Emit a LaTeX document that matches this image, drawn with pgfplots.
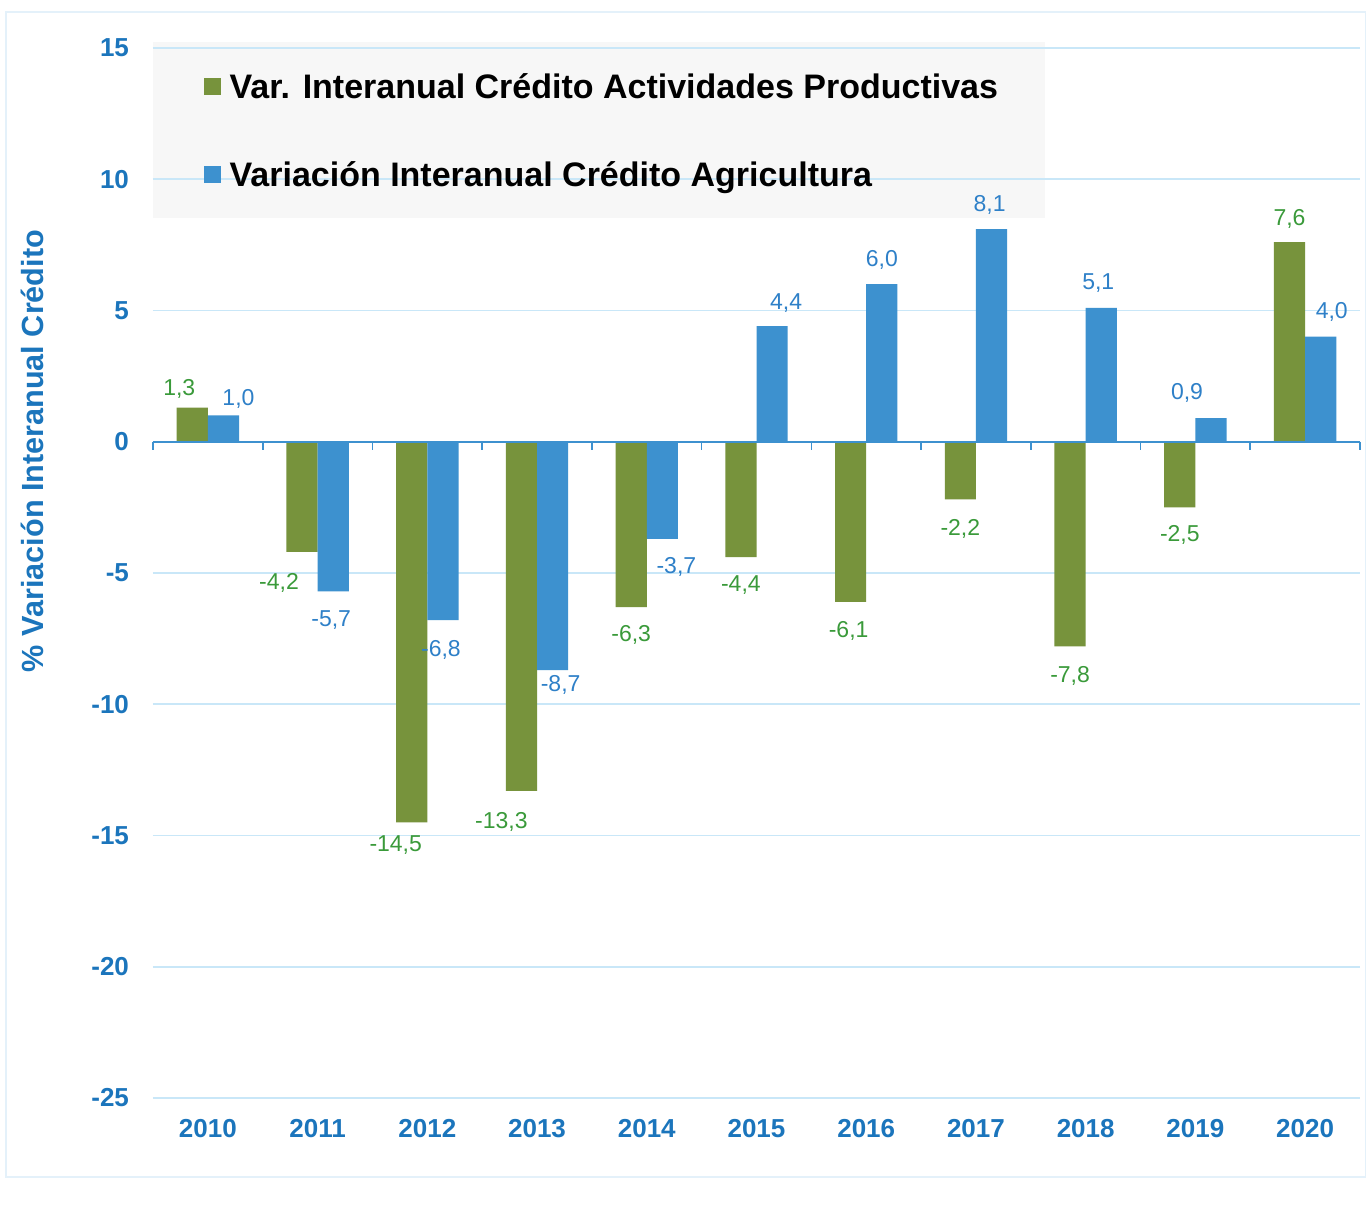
\documentclass[border=0pt]{standalone}
\usepackage{pgfplots}
\pgfplotsset{compat=1.18}
\usepackage{pgfplotstable}
\usepackage{fontspec}
\setmainfont{Liberation Sans}
\definecolor{barG}{HTML}{77933C}
\definecolor{barB}{HTML}{3D91CF}
\definecolor{labG}{HTML}{3A9A3A}
\definecolor{labB}{HTML}{2E80C8}
\definecolor{tickB}{HTML}{1B75BC}
\definecolor{gridB}{HTML}{C9E7F8}
\definecolor{legbg}{HTML}{F7F7F7}
\definecolor{frameB}{HTML}{E4F1FA}

\pgfplotstableread{
x y dx dy lab
0 1.3 -6.5 9.5 1,3
1 -4.2 -11.5 -15.5 -4,2
2 -14.5 -8 -11.5 -14,5
3 -13.3 -10 -15.5 -13,3
4 -6.3 0 -14 -6,3
5 -4.4 0 -14 -4,4
6 -6.1 -1 -14.5 -6,1
7 -2.2 0 -14.5 -2,2
8 -7.8 0 -14.5 -7,8
9 -2.5 0 -14 -2,5
10 7.6 0 11.5 7,6
}\greendata

\pgfplotstableread{
x y dx dy lab
0 1.0 7.5 8.5 1,0
1 -5.7 -1 -14.5 -5,7
2 -6.8 -1 -15 -6,8
3 -8.7 4 -7.5 -8,7
4 -3.7 7 -14 -3,7
5 4.4 7 11.5 4,4
6 6.0 0 12 6,0
7 8.1 -1 12 8,1
8 5.1 -1.5 12.5 5,1
9 0.9 -12 12.5 0,9
10 4.0 5.5 12.5 4,0
}\bluedata

\begin{document}
\begin{tikzpicture}
\useasboundingbox (0,0) rectangle (683pt,604pt);
\fill[white] (0,0) rectangle (683pt,604pt);
\draw[frameB, line width=0.6pt] (3pt,15.5pt) rectangle (683pt,598pt);
\fill[legbg] (76.5pt,495pt) rectangle (522.5pt,583pt);
\node[rotate=90, text=tickB, font=\bfseries\fontsize{15.3}{17}\selectfont] at (16pt,378.5pt) {\% Variación Interanual Crédito};
\begin{axis}[
  at={(76.5pt,55pt)}, anchor=south west,
  scale only axis, width=603.5pt, height=525pt,
  xmin=-0.5, xmax=10.5, ymin=-25, ymax=15,
  ybar=0pt, bar width=15.6pt,
  xtick={0,1,2,3,4,5,6,7,8,9,10},
  xticklabels={2010,2011,2012,2013,2014,2015,2016,2017,2018,2019,2020},
  ytick={-25,-20,-15,-10,-5,0,5,10,15},
  ymajorgrids, grid style={gridB, line width=0.8pt},
  axis line style={draw=none}, major tick length=0pt,
  tick label style={text=tickB, font=\bfseries\fontsize{13}{15}\selectfont},
  /pgf/number format/assume math mode=true,
  yticklabel style={xshift=-8.5pt},
  xticklabel style={yshift=-7pt},
  clip=false,
  point meta=explicit symbolic,
  nodes near coords,
  nodes near coords align={center},
  legend style={at={(0.0423,0.977)}, anchor=north west, draw=none, fill=none,
    inner sep=0pt, outer sep=0pt, row sep=27.5pt, column sep=4.3pt,
    nodes={inner sep=0pt, text height=13pt, text depth=3.5pt, anchor=base west},
    font=\bfseries\fontsize{17}{19}\selectfont},
  legend cell align=left,
]
\addplot[fill=barG, draw=none,
  legend image code/.code={\fill[barG] (0pt,1.5pt) rectangle (8.5pt,10pt);},
  visualization depends on={\thisrow{dx} \as \ldx},
  visualization depends on={\thisrow{dy} \as \ldy},
  nodes near coords style={anchor=center, text=labG, font=\fontsize{11.5}{13}\selectfont, xshift=\ldx pt, yshift=\ldy pt}]
  table[x=x, y=y, meta=lab] {\greendata};
\addlegendentry{Var. Interanual Crédito Actividades Productivas}
\addplot[fill=barB, draw=none,
  legend image code/.code={\fill[barB] (0pt,1.5pt) rectangle (8.5pt,10pt);},
  visualization depends on={\thisrow{dx} \as \ldx},
  visualization depends on={\thisrow{dy} \as \ldy},
  nodes near coords style={anchor=center, text=labB, font=\fontsize{11.5}{13}\selectfont, xshift=\ldx pt, yshift=\ldy pt}]
  table[x=x, y=y, meta=lab] {\bluedata};
\addlegendentry{Variación Interanual Crédito Agricultura}
\draw[barB, line width=1pt] (axis cs:-0.5,0) -- (axis cs:10.5,0);
\pgfplotsinvokeforeach{-0.5,0.5,1.5,2.5,3.5,4.5,5.5,6.5,7.5,8.5,9.5,10.5}{
  \draw[barB, line width=0.8pt] (axis cs:#1,0) -- ++(0pt,-4pt);
}
\end{axis}
\end{tikzpicture}
\end{document}
